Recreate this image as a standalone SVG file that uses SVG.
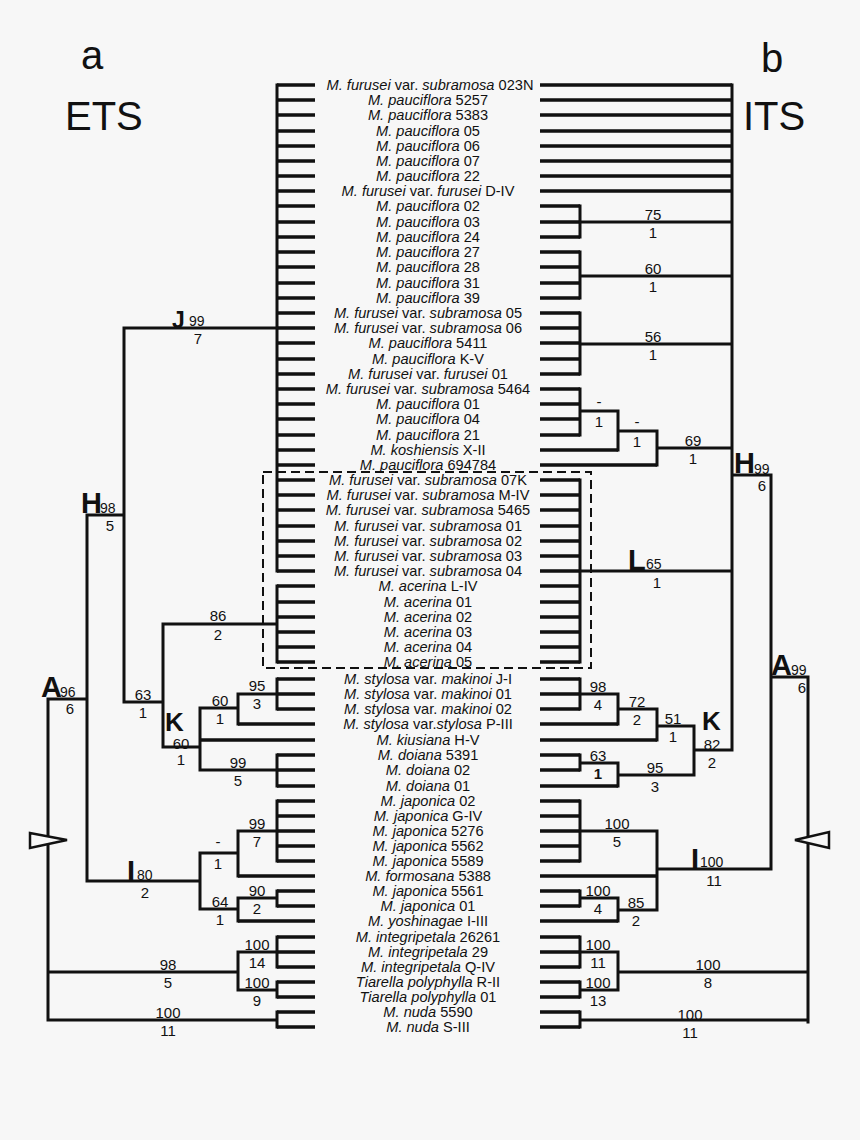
<svg xmlns="http://www.w3.org/2000/svg" width="860" height="1140" viewBox="0 0 860 1140">
<style>
.br{stroke:#111;stroke-width:3;fill:none;stroke-linecap:square}
.tp{stroke:#111;stroke-width:3.4;fill:none}
.tx{font-family:"Liberation Sans",Arial,sans-serif;font-size:14.6px;text-anchor:middle;fill:#111}
.it{font-style:italic}
.n{font-family:"Liberation Sans",Arial,sans-serif;font-size:15px;text-anchor:middle;fill:#111}
.s{font-family:"Liberation Sans",Arial,sans-serif;font-size:14px;fill:#111}
.b{font-family:"Liberation Sans",Arial,sans-serif;font-weight:bold;font-size:29px;fill:#111}
.hd{font-family:"Liberation Sans",Arial,sans-serif;font-size:40px;fill:#111}
</style>
<rect width="860" height="1140" fill="#f7f7f7"/>
<g id="headers">
<text class="hd" x="81" y="69">a</text>
<text class="hd" x="65" y="130">ETS</text>
<text class="hd" x="761" y="72">b</text>
<text class="hd" x="743" y="130">ITS</text>
</g>
<g id="connectors">
<path class="tp" d="M277 85H315M277 100H315M277 115H315M277 131H315M277 146H315M277 161H315M277 176H315M277 191H315M277 206H315M277 222H315M277 237H315M277 252H315M277 267H315M277 283H315M277 298H315M277 313H315M277 328H315M277 343H315M277 359H315M277 374H315M277 389H315M277 404H315M277 419H315M277 435H315M277 450H315M277 465H315M277 480H315M277 495H315M277 510H315M277 526H315M277 541H315M277 556H315M277 571H315M277 586H315M277 602H315M277 617H315M277 632H315M277 647H315M277 662H315M277 679H315M277 694H315M277 709H315M238 724H315M200 740H315M277 755H315M277 770H315M277 786H315M277 801H315M277 816H315M277 831H315M277 846H315M277 861H315M238 876H315M277 891H315M277 906H315M238 921H315M277 937H315M277 952H315M277 967H315M277 982H315M277 997H315M277 1012H315M277 1027H315"/>
<path class="tp" d="M540 85H732M540 100H732M540 115H732M540 131H732M540 146H732M540 161H732M540 176H732M540 191H732M540 206H580M540 222H580M540 237H580M540 252H580M540 267H580M540 283H580M540 298H580M540 313H580M540 328H580M540 343H580M540 359H580M540 374H580M540 389H580M540 404H580M540 419H580M540 435H580M540 450H618M540 465H657M540 480H580M540 495H580M540 510H580M540 526H580M540 541H580M540 556H580M540 571H580M540 586H580M540 602H580M540 617H580M540 632H580M540 647H580M540 662H580M540 679H580M540 694H580M540 709H580M540 724H618M540 740H657M540 755H580M540 770H580M540 786H618M540 801H580M540 816H580M540 831H580M540 846H580M540 861H580M540 876H657M540 891H580M540 906H580M540 921H618M540 937H580M540 952H580M540 967H580M540 982H580M540 997H580M540 1012H580M540 1027H580"/>
<path class="br" d="M277 85V571M124 328H277M277 586V662M163 624H277M124 328V702M87 515H124M124 702H163M163 624V747M163 747H200M200 708V770M200 708H238M238 694V724M238 694H277M277 679V709M200 770H277M277 755V786M48 699H87M87 515V881M87 881H200M200 853V909M200 853H238M238 831V876M238 831H277M277 801V861M200 909H238M238 898V921M238 898H277M277 891V906M48 699V1020M48 972H238M238 952V990M238 952H277M277 937V967M238 990H277M277 982V997M48 1020H277M277 1012V1027"/>
<path class="br" d="M732 85V750M580 206V237M580 222H732M580 252V298M580 276H732M580 313V374M580 344H732M580 389V435M580 411H618M618 411V450M618 431H657M657 431V465M657 448H732M732 475H771M771 475V869M580 480V662M580 571H732M580 679V709M580 694H618M618 694V724M618 709H657M657 709V740M657 726H694M694 726V775M694 750H732M580 755V770M580 763H618M618 763V786M618 775H694M580 801V861M580 831H657M657 831V910M657 869H771M618 910H657M618 898V921M580 891V906M580 898H618M580 937V967M580 952H618M580 982V997M580 990H618M618 952V990M618 972H808M771 677H808M808 677V1022M580 1020H808M580 1012V1027"/>
<rect x="263" y="472" width="328" height="196" fill="none" stroke="#111" stroke-width="2" stroke-dasharray="9,5"/>
<polygon points="30,833 30,848 67,840" fill="#f7f7f7" stroke="#111" stroke-width="2.5"/>
<polygon points="829,832 829,848 795,840" fill="#f7f7f7" stroke="#111" stroke-width="2.5"/>
</g>
<g id="taxa">
<g id="t1"><text class="tx" x="430" y="90"><tspan class="it">M. furusei</tspan> var. <tspan class="it">subramosa</tspan> 023N</text></g>
<g id="t2"><text class="tx" x="428" y="105"><tspan class="it">M. pauciflora</tspan> 5257</text></g>
<g id="t3"><text class="tx" x="428" y="120"><tspan class="it">M. pauciflora</tspan> 5383</text></g>
<g id="t4"><text class="tx" x="428" y="136"><tspan class="it">M. pauciflora</tspan> 05</text></g>
<g id="t5"><text class="tx" x="428" y="151"><tspan class="it">M. pauciflora</tspan> 06</text></g>
<g id="t6"><text class="tx" x="428" y="166"><tspan class="it">M. pauciflora</tspan> 07</text></g>
<g id="t7"><text class="tx" x="428" y="181"><tspan class="it">M. pauciflora</tspan> 22</text></g>
<g id="t8"><text class="tx" x="428" y="196"><tspan class="it">M. furusei</tspan> var. <tspan class="it">furusei</tspan> D-IV</text></g>
<g id="t9"><text class="tx" x="428" y="211"><tspan class="it">M. pauciflora</tspan> 02</text></g>
<g id="t10"><text class="tx" x="428" y="227"><tspan class="it">M. pauciflora</tspan> 03</text></g>
<g id="t11"><text class="tx" x="428" y="242"><tspan class="it">M. pauciflora</tspan> 24</text></g>
<g id="t12"><text class="tx" x="428" y="257"><tspan class="it">M. pauciflora</tspan> 27</text></g>
<g id="t13"><text class="tx" x="428" y="272"><tspan class="it">M. pauciflora</tspan> 28</text></g>
<g id="t14"><text class="tx" x="428" y="288"><tspan class="it">M. pauciflora</tspan> 31</text></g>
<g id="t15"><text class="tx" x="428" y="303"><tspan class="it">M. pauciflora</tspan> 39</text></g>
<g id="t16"><text class="tx" x="428" y="318"><tspan class="it">M. furusei</tspan> var. <tspan class="it">subramosa</tspan> 05</text></g>
<g id="t17"><text class="tx" x="428" y="333"><tspan class="it">M. furusei</tspan> var. <tspan class="it">subramosa</tspan> 06</text></g>
<g id="t18"><text class="tx" x="428" y="348"><tspan class="it">M. pauciflora</tspan> 5411</text></g>
<g id="t19"><text class="tx" x="428" y="364"><tspan class="it">M. pauciflora</tspan> K-V</text></g>
<g id="t20"><text class="tx" x="428" y="379"><tspan class="it">M. furusei</tspan> var. <tspan class="it">furusei</tspan> 01</text></g>
<g id="t21"><text class="tx" x="428" y="394"><tspan class="it">M. furusei</tspan> var. <tspan class="it">subramosa</tspan> 5464</text></g>
<g id="t22"><text class="tx" x="428" y="409"><tspan class="it">M. pauciflora</tspan> 01</text></g>
<g id="t23"><text class="tx" x="428" y="424"><tspan class="it">M. pauciflora</tspan> 04</text></g>
<g id="t24"><text class="tx" x="428" y="440"><tspan class="it">M. pauciflora</tspan> 21</text></g>
<g id="t25"><text class="tx" x="428" y="455"><tspan class="it">M. koshiensis</tspan>  X-II</text></g>
<g id="t26"><text class="tx" x="428" y="470"><tspan class="it">M. pauciflora</tspan> 694784</text></g>
<g id="t27"><text class="tx" x="428" y="485"><tspan class="it">M. furusei</tspan> var. <tspan class="it">subramosa</tspan> 07K</text></g>
<g id="t28"><text class="tx" x="428" y="500"><tspan class="it">M. furusei</tspan> var. <tspan class="it">subramosa</tspan> M-IV</text></g>
<g id="t29"><text class="tx" x="428" y="515"><tspan class="it">M. furusei</tspan> var. <tspan class="it">subramosa</tspan> 5465</text></g>
<g id="t30"><text class="tx" x="428" y="531"><tspan class="it">M. furusei</tspan> var. <tspan class="it">subramosa</tspan> 01</text></g>
<g id="t31"><text class="tx" x="428" y="546"><tspan class="it">M. furusei</tspan> var. <tspan class="it">subramosa</tspan> 02</text></g>
<g id="t32"><text class="tx" x="428" y="561"><tspan class="it">M. furusei</tspan> var. <tspan class="it">subramosa</tspan> 03</text></g>
<g id="t33"><text class="tx" x="428" y="576"><tspan class="it">M. furusei</tspan> var. <tspan class="it">subramosa</tspan> 04</text></g>
<g id="t34"><text class="tx" x="428" y="591"><tspan class="it">M. acerina</tspan> L-IV</text></g>
<g id="t35"><text class="tx" x="428" y="607"><tspan class="it">M. acerina</tspan> 01</text></g>
<g id="t36"><text class="tx" x="428" y="622"><tspan class="it">M. acerina</tspan> 02</text></g>
<g id="t37"><text class="tx" x="428" y="637"><tspan class="it">M. acerina</tspan> 03</text></g>
<g id="t38"><text class="tx" x="428" y="652"><tspan class="it">M. acerina</tspan> 04</text></g>
<g id="t39"><text class="tx" x="428" y="667"><tspan class="it">M. acerina</tspan> 05</text></g>
<g id="t40"><text class="tx" x="428" y="684"><tspan class="it">M. stylosa</tspan> var. <tspan class="it">makinoi</tspan> J-I</text></g>
<g id="t41"><text class="tx" x="428" y="699"><tspan class="it">M. stylosa</tspan> var. <tspan class="it">makinoi</tspan> 01</text></g>
<g id="t42"><text class="tx" x="428" y="714"><tspan class="it">M. stylosa</tspan> var. <tspan class="it">makinoi</tspan> 02</text></g>
<g id="t43"><text class="tx" x="428" y="729"><tspan class="it">M. stylosa</tspan> var.<tspan class="it">stylosa</tspan> P-III</text></g>
<g id="t44"><text class="tx" x="428" y="745"><tspan class="it">M. kiusiana</tspan>  H-V</text></g>
<g id="t45"><text class="tx" x="428" y="760"><tspan class="it">M. doiana</tspan> 5391</text></g>
<g id="t46"><text class="tx" x="428" y="775"><tspan class="it">M. doiana</tspan> 02</text></g>
<g id="t47"><text class="tx" x="428" y="791"><tspan class="it">M. doiana</tspan> 01</text></g>
<g id="t48"><text class="tx" x="428" y="806"><tspan class="it">M. japonica</tspan> 02</text></g>
<g id="t49"><text class="tx" x="428" y="821"><tspan class="it">M. japonica</tspan> G-IV</text></g>
<g id="t50"><text class="tx" x="428" y="836"><tspan class="it">M. japonica</tspan> 5276</text></g>
<g id="t51"><text class="tx" x="428" y="851"><tspan class="it">M. japonica</tspan> 5562</text></g>
<g id="t52"><text class="tx" x="428" y="866"><tspan class="it">M. japonica</tspan> 5589</text></g>
<g id="t53"><text class="tx" x="428" y="881"><tspan class="it">M. formosana</tspan> 5388</text></g>
<g id="t54"><text class="tx" x="428" y="896"><tspan class="it">M. japonica</tspan> 5561</text></g>
<g id="t55"><text class="tx" x="428" y="911"><tspan class="it">M. japonica</tspan> 01</text></g>
<g id="t56"><text class="tx" x="428" y="926"><tspan class="it">M. yoshinagae</tspan>  I-III</text></g>
<g id="t57"><text class="tx" x="428" y="942"><tspan class="it">M. integripetala</tspan> 26261</text></g>
<g id="t58"><text class="tx" x="428" y="957"><tspan class="it">M. integripetala</tspan> 29</text></g>
<g id="t59"><text class="tx" x="428" y="972"><tspan class="it">M. integripetala</tspan> Q-IV</text></g>
<g id="t60"><text class="tx" x="428" y="987"><tspan class="it">Tiarella polyphylla</tspan>  R-II</text></g>
<g id="t61"><text class="tx" x="428" y="1002"><tspan class="it">Tiarella polyphylla</tspan>  01</text></g>
<g id="t62"><text class="tx" x="428" y="1017"><tspan class="it">M. nuda</tspan> 5590</text></g>
<g id="t63"><text class="tx" x="428" y="1032"><tspan class="it">M. nuda</tspan> S-III</text></g>
</g>
<g id="left-nodes">
<g id="lJ"><text class="b" x="172" y="328" style="font-size:23px">J</text><text class="s" x="189" y="326">99</text><text class="n" x="198" y="344">7</text></g>
<g id="lH"><text class="b" x="81" y="513">H</text><text class="s" x="100" y="513">98</text><text class="n" x="110" y="531">5</text></g>
<g id="l86"><text class="n" x="218" y="621">86</text><text class="n" x="218" y="640">2</text></g>
<g id="lA"><text class="b" x="41" y="697">A</text><text class="s" x="60" y="697">96</text><text class="n" x="70" y="714">6</text></g>
<g id="l63"><text class="n" x="143" y="700">63</text><text class="n" x="143" y="718">1</text></g>
<g id="lK"><text class="b" x="165" y="731" style="font-size:26px">K</text><text class="n" x="181" y="749">60</text><text class="n" x="181" y="765">1</text></g>
<g id="l60"><text class="n" x="220" y="706">60</text><text class="n" x="220" y="724">1</text></g>
<g id="l95"><text class="n" x="257" y="691">95</text><text class="n" x="257" y="709">3</text></g>
<g id="l99a"><text class="n" x="238" y="768">99</text><text class="n" x="238" y="786">5</text></g>
<g id="lI"><text class="b" x="127" y="881">I</text><text class="s" x="137" y="880">80</text><text class="n" x="145" y="898">2</text></g>
<g id="ldash"><text class="n" x="218" y="847">-</text><text class="n" x="218" y="869">1</text></g>
<g id="l99b"><text class="n" x="257" y="829">99</text><text class="n" x="257" y="847">7</text></g>
<g id="l64"><text class="n" x="220" y="907">64</text><text class="n" x="220" y="925">1</text></g>
<g id="l90"><text class="n" x="257" y="896">90</text><text class="n" x="257" y="914">2</text></g>
<g id="l100a"><text class="n" x="257" y="950">100</text><text class="n" x="257" y="968">14</text></g>
<g id="l100b"><text class="n" x="257" y="988">100</text><text class="n" x="257" y="1006">9</text></g>
<g id="l98"><text class="n" x="168" y="970">98</text><text class="n" x="168" y="988">5</text></g>
<g id="l100c"><text class="n" x="168" y="1018">100</text><text class="n" x="168" y="1036">11</text></g>
</g>
<g id="right-nodes">
<g id="r75"><text class="n" x="653" y="220">75</text><text class="n" x="653" y="238">1</text></g>
<g id="r60"><text class="n" x="653" y="274">60</text><text class="n" x="653" y="292">1</text></g>
<g id="r56"><text class="n" x="653" y="342">56</text><text class="n" x="653" y="360">1</text></g>
<g id="rd1"><text class="n" x="599" y="407">-</text><text class="n" x="599" y="427">1</text></g>
<g id="rd2"><text class="n" x="637" y="427">-</text><text class="n" x="637" y="447">1</text></g>
<g id="r69"><text class="n" x="693" y="446">69</text><text class="n" x="693" y="464">1</text></g>
<g id="rH"><text class="b" x="734" y="473">H</text><text class="s" x="754" y="474">99</text><text class="n" x="762" y="491">6</text></g>
<g id="rL"><text class="b" x="628" y="570">L</text><text class="s" x="646" y="569">65</text><text class="n" x="657" y="588">1</text></g>
<g id="r98"><text class="n" x="598" y="692">98</text><text class="n" x="598" y="710">4</text></g>
<g id="r72"><text class="n" x="637" y="707">72</text><text class="n" x="637" y="725">2</text></g>
<g id="r51"><text class="n" x="673" y="724">51</text><text class="n" x="673" y="742">1</text></g>
<g id="rK"><text class="b" x="702" y="730" style="font-size:26px">K</text><text class="n" x="712" y="750">82</text><text class="n" x="712" y="768">2</text></g>
<g id="r63"><text class="n" x="598" y="761">63</text><text class="n" x="598" y="779" style="font-weight:bold">1</text></g>
<g id="r95"><text class="n" x="655" y="773">95</text><text class="n" x="655" y="792">3</text></g>
<g id="rA"><text class="b" x="771" y="675">A</text><text class="s" x="791" y="675">99</text><text class="n" x="802" y="693">6</text></g>
<g id="r100a"><text class="n" x="617" y="829">100</text><text class="n" x="617" y="847">5</text></g>
<g id="rI"><text class="b" x="691" y="869">I</text><text class="s" x="700" y="867">100</text><text class="n" x="714" y="886">11</text></g>
<g id="r100b"><text class="n" x="598" y="896">100</text><text class="n" x="598" y="914">4</text></g>
<g id="r85"><text class="n" x="636" y="908">85</text><text class="n" x="636" y="926">2</text></g>
<g id="r100c"><text class="n" x="598" y="950">100</text><text class="n" x="598" y="968">11</text></g>
<g id="r100d"><text class="n" x="598" y="988">100</text><text class="n" x="598" y="1006">13</text></g>
<g id="r100e"><text class="n" x="708" y="970">100</text><text class="n" x="708" y="988">8</text></g>
<g id="r100f"><text class="n" x="690" y="1020">100</text><text class="n" x="690" y="1038">11</text></g>
</g>
</svg>
